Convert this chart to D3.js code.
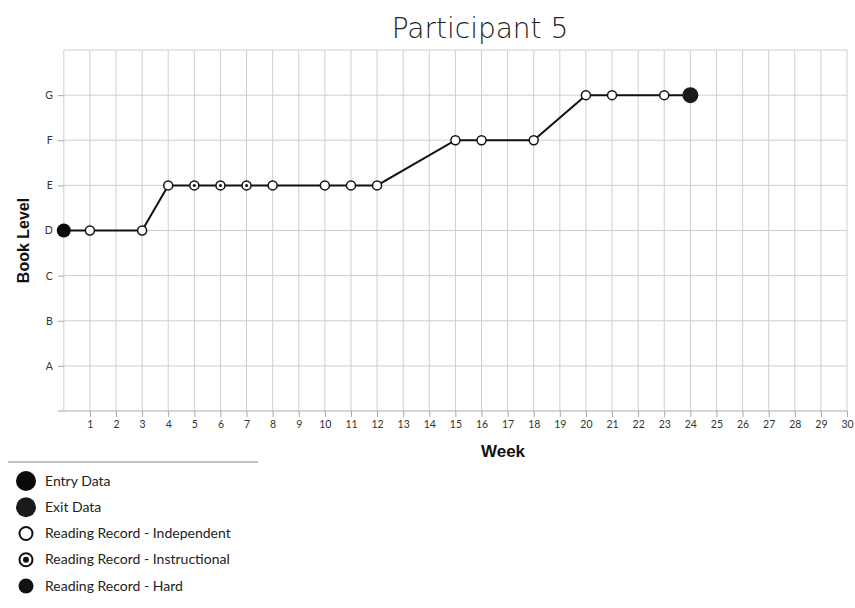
<!DOCTYPE html>
<html><head><meta charset="utf-8">
<script src="https://cdn.jsdelivr.net/npm/d3@7"></script>
<style>body{margin:0;background:#fff}</style>
</head><body>
<svg id="c" width="855" height="608"></svg>
<script>
const levels = ["A","B","C","D","E","F","G"];
const weeks = d3.range(1, 31);
const pointWeeks  = [0,1,3,4,5,6,7,8,10,11,12,15,16,18,20,21,23,24];
const pointLevels = ["D","D","D","E","E","E","E","E","E","E","E","F","F","F","G","G","G","G"];
const pointTypes  = ["entry","ind","ind","ind","ins","ins","ins","ind","ind","ind","ind","ind","ind","ind","ind","ind","ind","exit"];
const legendLabels = ["Entry Data","Exit Data","Reading Record - Independent","Reading Record - Instructional","Reading Record - Hard"];
const legendTypes = ["entry","exit","ind","ins","hard"];

const svg = d3.select("#c");
const x = d3.scaleLinear().domain([0,30]).range([63.8,847]);
const y = d3.scaleLinear().domain([0,8]).range([411,50]);
const lvl = l => levels.indexOf(l)+1;

// grid
const g = svg.append("g");
g.selectAll(".vg").data(d3.range(0,31)).join("line")
  .attr("x1",d=>x(d)).attr("x2",d=>x(d)).attr("y1",y(8)).attr("y2",y(0))
  .attr("stroke","#cfcfcf").attr("stroke-width",1);
g.selectAll(".hg").data(d3.range(1,9)).join("line")
  .attr("x1",x(0)).attr("x2",x(30)).attr("y1",d=>y(d)).attr("y2",d=>y(d))
  .attr("stroke","#cfcfcf").attr("stroke-width",1);

// axes
const xAxis = d3.axisBottom(x).tickValues(weeks).tickSize(6).tickPadding(4).tickSizeOuter(0);
const xa = svg.append("g").attr("transform",`translate(0,${y(0)})`).call(xAxis);
xa.select(".domain").attr("d",`M${x(0)-6},0H${x(30)}`).attr("stroke","#aaa");
xa.selectAll(".tick line").attr("stroke","#aaa");
xa.selectAll("text").attr("fill","#333").style("font-family","Lato, 'Open Sans', sans-serif").style("font-size","10.5px");

const yAxis = d3.axisLeft(y).tickValues(d3.range(1,8)).tickFormat(d=>levels[d-1]).tickSize(6).tickPadding(5).tickSizeOuter(0);
const ya = svg.append("g").attr("transform",`translate(${x(0)},0)`).call(yAxis);
ya.select(".domain").remove();
ya.selectAll(".tick line").attr("stroke","#aaa");
ya.selectAll("text").attr("fill","#333").style("font-family","Lato, 'Open Sans', sans-serif").style("font-size","10.5px");

// line
const pts = pointWeeks.map((w,i)=>({w, l:lvl(pointLevels[i]), t:pointTypes[i]}));
svg.append("path").datum(pts)
  .attr("d", d3.line().x(d=>x(d.w)).y(d=>y(d.l)))
  .attr("fill","none").attr("stroke","#111").attr("stroke-width",2);

function marker(sel, t, big){
  if(t==="entry"||t==="exit"){
    sel.append("circle").attr("r", big?10:(t==="exit"?8:7)).attr("fill", t==="exit"?"#1a1a1a":"#0a0a0a");
  } else if(t==="hard"){
    sel.append("circle").attr("r", big?7.5:4.5).attr("fill","#111");
  } else {
    sel.append("circle").attr("r", big?6.5:4.5).attr("fill","#fff").attr("stroke","#111").attr("stroke-width", big?2:1.5);
    if(t==="ins") sel.append("circle").attr("r", big?3:1.5).attr("fill","#111");
  }
}
pts.forEach(p=>{
  const m = svg.append("g").attr("transform",`translate(${x(p.w)},${y(p.l)})`);
  marker(m, p.t, false);
});

// title
svg.append("text").attr("x",480).attr("y",38).attr("text-anchor","middle")
  .style("font-family","'DejaVu Sans', sans-serif").style("font-weight","200").style("font-size","28px").attr("fill","#222")
  .text("Participant 5");

// axis titles
svg.append("text").attr("transform",`translate(29,${(y(0)+y(8))/2+10}) rotate(-90)`).attr("text-anchor","middle")
  .style("font-family","'Liberation Sans', Arial, sans-serif").style("font-weight","bold").style("font-size","16px").attr("fill","#111")
  .text("Book Level");
svg.append("text").attr("x",503).attr("y",457).attr("text-anchor","middle")
  .style("font-family","'Liberation Sans', Arial, sans-serif").style("font-weight","bold").style("font-size","17px").attr("fill","#111")
  .text("Week");

// legend
svg.append("line").attr("x1",8).attr("x2",258).attr("y1",462).attr("y2",462).attr("stroke","#888").attr("stroke-width",1);
const leg = d3.scaleLinear().domain([0,4]).range([481,586]);
legendLabels.forEach((lab,i)=>{
  const m = svg.append("g").attr("transform",`translate(26,${leg(i)})`);
  marker(m, legendTypes[i], true);
  svg.append("text").attr("x",45).attr("y",leg(i)+4.5)
    .style("font-family","Lato, 'Open Sans', sans-serif").style("font-size","14px").attr("fill","#222").text(lab);
});
</script>
</body></html>
